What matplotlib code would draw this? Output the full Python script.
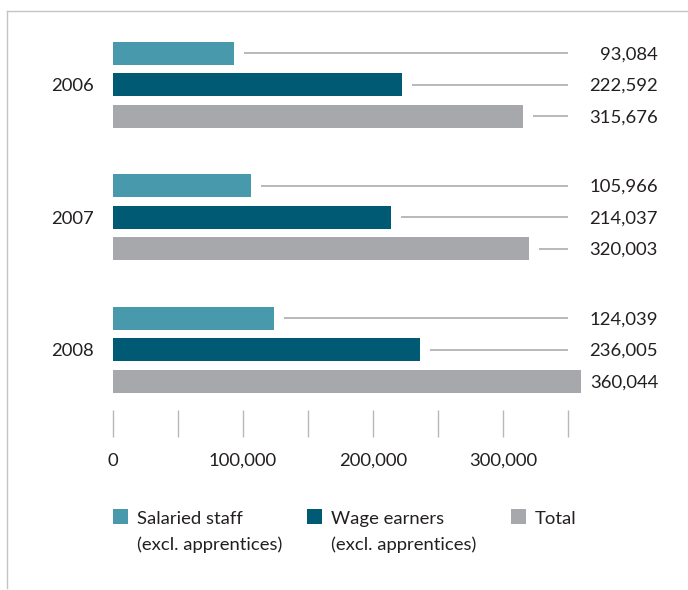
import matplotlib
matplotlib.use("Agg")
import matplotlib.pyplot as plt
from matplotlib.lines import Line2D
from matplotlib.patches import Rectangle
from matplotlib.ticker import FuncFormatter

plt.rcParams["font.family"] = ["Lato", "DejaVu Sans"]

years = ["2006", "2007", "2008"]
series_names = [["Salaried staff", "(excl. apprentices)"],
                ["Wage earners", "(excl. apprentices)"],
                ["Total"]]
salaried = [93084, 105966, 124039]
wage = [222592, 214037, 236005]
total = [315676, 320003, 360044]
colors = ["#4799ab", "#005a73", "#a7a8ac"]

W, H = 688, 590
fig = plt.figure(figsize=(W / 100, H / 100), dpi=100)

# axes placed in pixel units of the figure
ax_l, ax_r, ax_t, ax_b = 113, 663, 11, 437
ax = fig.add_axes([ax_l / W, 1 - ax_b / H, (ax_r - ax_l) / W, (ax_b - ax_t) / H])
px_per_unit = 1.3 / 1000  # pixels per value unit
xmax = (ax_r - ax_l) / px_per_unit
ax.set_xlim(0, xmax)

grp_px = 132.5
ymin = (ax_t - 84.5) / grp_px
ymax = (ax_b - 84.5) / grp_px
ax.set_ylim(ymax, ymin)

offset = 31.5 / grp_px
bar_h = 23 / grp_px
text_color = "#231f20"
line_color = "#b3b3b3"
fs = 13.3
gap = 10 / px_per_unit
line_end = (568 - ax_l) / px_per_unit
label_x = (658 - ax_l) / px_per_unit

all_series = [salaried, wage, total]
for k, (vals, col) in enumerate(zip(all_series, colors)):
    ys = [g + (k - 1) * offset for g in range(len(years))]
    ax.barh(ys, vals, height=bar_h, color=col, left=0, linewidth=0)
    for y, v in zip(ys, vals):
        if v + gap < line_end:
            ax.hlines(y, v + gap, line_end, color=line_color, lw=1.3)
        ax.text(label_x, y, f"{v:,}", ha="right", va="center_baseline",
                fontsize=fs, color=text_color)

for g, yr in enumerate(years):
    ax.annotate(yr, xy=(0, g), xytext=(-13.5, 0), textcoords="offset points",
                ha="right", va="center_baseline", fontsize=fs, color=text_color)

for s in ax.spines.values():
    s.set_visible(False)
ax.set_yticks([])
ax.set_xticks(list(range(0, 350001, 100000)))
ax.set_xticks(list(range(50000, 350001, 100000)), minor=True)
ax.xaxis.set_major_formatter(FuncFormatter(lambda v, p: f"{int(v):,}"))
ax.tick_params(axis="x", which="both", direction="in", length=19.5,
               color="#b8b8b8", width=1.0)
ax.tick_params(axis="x", which="major", pad=11.5, labelsize=fs, labelcolor=text_color)
ax.patch.set_visible(False)

# outer frame lines (top and left)
fig.add_artist(Line2D([7 / W, 1], [1 - 11 / H, 1 - 11 / H], color="#c4c4c4", lw=1.0))
fig.add_artist(Line2D([7 / W, 7 / W], [1 - 11 / H, 1 - 588 / H], color="#c4c4c4", lw=1.0))

# legend
legend_x = [113, 307, 511]
sq = 15
for x0, lines, col in zip(legend_x, series_names, colors):
    fig.add_artist(Rectangle((x0 / W, 1 - 524 / H), sq / W, sq / H,
                             transform=fig.transFigure, color=col, lw=0))
    for i, line in enumerate(lines):
        fig.text((x0 + 24) / W, 1 - (524 + 26 * i) / H, line, ha="left",
                 va="baseline", fontsize=fs, color=text_color)

fig.savefig("out.png", dpi=100)
